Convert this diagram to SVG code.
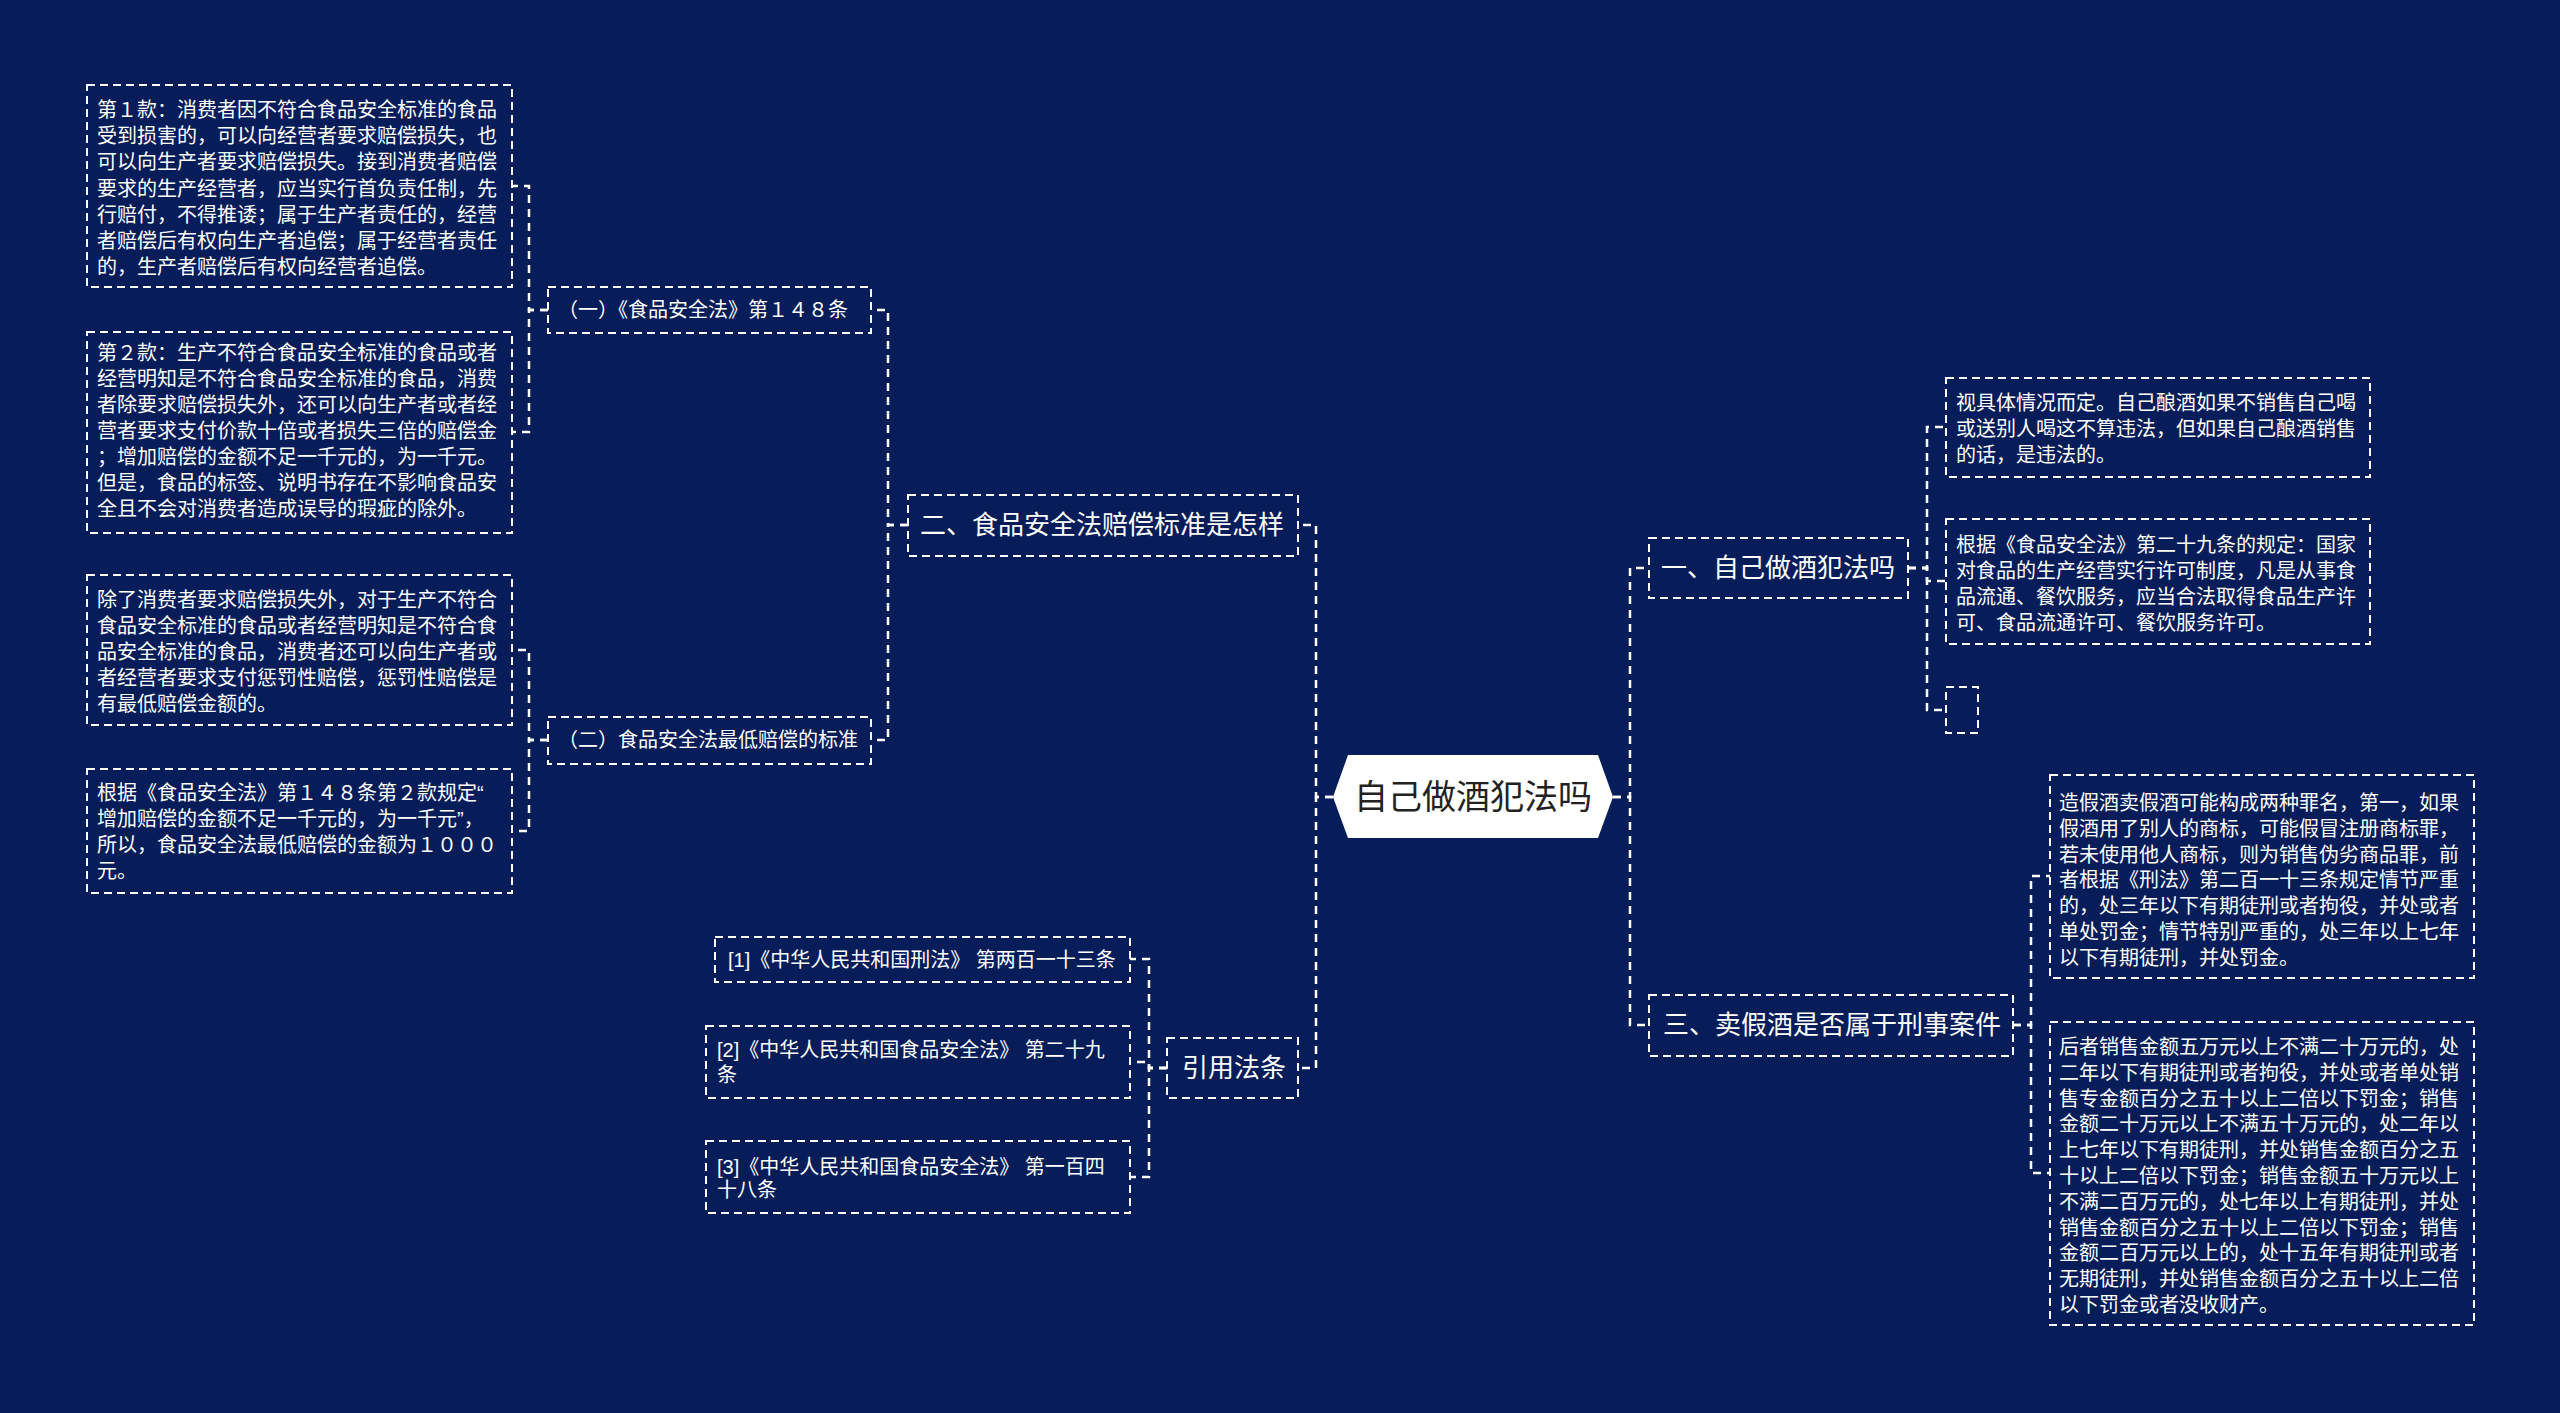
<svg xmlns="http://www.w3.org/2000/svg" width="2560" height="1413" viewBox="0 0 2560 1413">
<style>
.bg{fill:#061d59}
.box{fill:none;stroke:#ffffff;stroke-width:2;stroke-dasharray:8 5}
.conn{fill:none;stroke:#ffffff;stroke-width:2.5;stroke-dasharray:8 6}
text{font-family:'Liberation Sans','Noto Sans CJK SC',sans-serif;fill:#ffffff}
.t20{font-size:20px}
.t26{font-size:26px}
.root{font-size:34px;fill:#222222;text-anchor:middle}
</style>
<rect class="bg" x="0" y="0" width="2560" height="1413"/>
<g id="connectors">
<path class="conn" d="M1333,797 H1316 V525 H1298"/>
<path class="conn" d="M1333,797 H1316 V1068 H1298"/>
<path class="conn" d="M1613,797 H1630 V568 H1649"/>
<path class="conn" d="M1613,797 H1630 V1025 H1649"/>
<path class="conn" d="M908,525 H888 V310 H871"/>
<path class="conn" d="M908,525 H888 V740 H871"/>
<path class="conn" d="M548,310 H529 V186 H512"/>
<path class="conn" d="M548,310 H529 V432 H512"/>
<path class="conn" d="M548,740 H529 V650 H512"/>
<path class="conn" d="M548,740 H529 V831 H512"/>
<path class="conn" d="M1167,1068 H1149 V959 H1130"/>
<path class="conn" d="M1167,1068 H1149 V1062 H1130"/>
<path class="conn" d="M1167,1068 H1149 V1177 H1130"/>
<path class="conn" d="M1908,568 H1927 V427 H1946"/>
<path class="conn" d="M1908,568 H1927 V581 H1946"/>
<path class="conn" d="M1908,568 H1927 V710 H1946"/>
<path class="conn" d="M2013,1025 H2031 V876 H2050"/>
<path class="conn" d="M2013,1025 H2031 V1173 H2050"/>
</g>
<g id="root">
<polygon points="1333,797 1348,755 1598,755 1613,797 1598,838 1348,838" fill="#ffffff"/>
<text class="root" x="1473" y="809">自己做酒犯法吗</text>
</g>
<g id="n-er">
<rect class="box" x="908" y="495" width="390" height="61"/>
<text class="t26" x="920" y="534">二、食品安全法赔偿标准是怎样</text>
</g>
<g id="n-yin">
<rect class="box" x="1167" y="1038" width="131" height="60"/>
<text class="t26" x="1182" y="1077">引用法条</text>
</g>
<g id="n-yi">
<rect class="box" x="1649" y="538" width="259" height="60"/>
<text class="t26" x="1661" y="577">一、自己做酒犯法吗</text>
</g>
<g id="n-san">
<rect class="box" x="1649" y="995" width="364" height="61"/>
<text class="t26" x="1663" y="1034">三、卖假酒是否属于刑事案件</text>
</g>
<g id="n-sub1">
<rect class="box" x="548" y="287" width="323" height="46"/>
<text class="t20" x="558" y="317">（一）《食品安全法》第１４８条</text>
</g>
<g id="n-sub2">
<rect class="box" x="548" y="717" width="323" height="47"/>
<text class="t20" x="558" y="747">（二）食品安全法最低赔偿的标准</text>
</g>
<g id="n-a">
<rect class="box" x="87" y="85" width="425" height="202"/>
<text class="t20"><tspan x="97" y="117">第１款：消费者因不符合食品安全标准的食品</tspan><tspan x="97" y="143">受到损害的，可以向经营者要求赔偿损失，也</tspan><tspan x="97" y="169">可以向生产者要求赔偿损失。接到消费者赔偿</tspan><tspan x="97" y="196">要求的生产经营者，应当实行首负责任制，先</tspan><tspan x="97" y="222">行赔付，不得推诿；属于生产者责任的，经营</tspan><tspan x="97" y="248">者赔偿后有权向生产者追偿；属于经营者责任</tspan><tspan x="97" y="274">的，生产者赔偿后有权向经营者追偿。</tspan></text>
</g>
<g id="n-b">
<rect class="box" x="87" y="332" width="425" height="201"/>
<text class="t20"><tspan x="97" y="360">第２款：生产不符合食品安全标准的食品或者</tspan><tspan x="97" y="386">经营明知是不符合食品安全标准的食品，消费</tspan><tspan x="97" y="412">者除要求赔偿损失外，还可以向生产者或者经</tspan><tspan x="97" y="438">营者要求支付价款十倍或者损失三倍的赔偿金</tspan><tspan x="97" y="464">；增加赔偿的金额不足一千元的，为一千元。</tspan><tspan x="97" y="490">但是，食品的标签、说明书存在不影响食品安</tspan><tspan x="97" y="516">全且不会对消费者造成误导的瑕疵的除外。</tspan></text>
</g>
<g id="n-c">
<rect class="box" x="87" y="575" width="425" height="150"/>
<text class="t20"><tspan x="97" y="607">除了消费者要求赔偿损失外，对于生产不符合</tspan><tspan x="97" y="633">食品安全标准的食品或者经营明知是不符合食</tspan><tspan x="97" y="659">品安全标准的食品，消费者还可以向生产者或</tspan><tspan x="97" y="685">者经营者要求支付惩罚性赔偿，惩罚性赔偿是</tspan><tspan x="97" y="711">有最低赔偿金额的。</tspan></text>
</g>
<g id="n-d">
<rect class="box" x="87" y="769" width="425" height="124"/>
<text class="t20"><tspan x="97" y="800">根据《食品安全法》第１４８条第２款规定“</tspan><tspan x="97" y="826">增加赔偿的金额不足一千元的，为一千元”，</tspan><tspan x="97" y="852">所以，食品安全法最低赔偿的金额为１０００</tspan><tspan x="97" y="878">元。</tspan></text>
</g>
<g id="n-ref1">
<rect class="box" x="715" y="937" width="415" height="45"/>
<text class="t20" x="728" y="967">[1]《中华人民共和国刑法》 第两百一十三条</text>
</g>
<g id="n-ref2">
<rect class="box" x="706" y="1026" width="424" height="72"/>
<text class="t20"><tspan x="717" y="1057">[2]《中华人民共和国食品安全法》 第二十九</tspan><tspan x="717" y="1082">条</tspan></text>
</g>
<g id="n-ref3">
<rect class="box" x="706" y="1141" width="424" height="72"/>
<text class="t20"><tspan x="717" y="1174">[3]《中华人民共和国食品安全法》 第一百四</tspan><tspan x="717" y="1197">十八条</tspan></text>
</g>
<g id="n-r1">
<rect class="box" x="1946" y="378" width="424" height="99"/>
<text class="t20"><tspan x="1956" y="410">视具体情况而定。自己酿酒如果不销售自己喝</tspan><tspan x="1956" y="436">或送别人喝这不算违法，但如果自己酿酒销售</tspan><tspan x="1956" y="462">的话，是违法的。</tspan></text>
</g>
<g id="n-r2">
<rect class="box" x="1946" y="519" width="424" height="125"/>
<text class="t20"><tspan x="1956" y="552">根据《食品安全法》第二十九条的规定：国家</tspan><tspan x="1956" y="578">对食品的生产经营实行许可制度，凡是从事食</tspan><tspan x="1956" y="604">品流通、餐饮服务，应当合法取得食品生产许</tspan><tspan x="1956" y="630">可、食品流通许可、餐饮服务许可。</tspan></text>
</g>
<g id="n-r3">
<rect class="box" x="1946" y="687" width="32" height="46"/>
</g>
<g id="n-r4">
<rect class="box" x="2050" y="775" width="424" height="203"/>
<text class="t20"><tspan x="2059" y="810">造假酒卖假酒可能构成两种罪名，第一，如果</tspan><tspan x="2059" y="836">假酒用了别人的商标，可能假冒注册商标罪，</tspan><tspan x="2059" y="862">若未使用他人商标，则为销售伪劣商品罪，前</tspan><tspan x="2059" y="887">者根据《刑法》第二百一十三条规定情节严重</tspan><tspan x="2059" y="913">的，处三年以下有期徒刑或者拘役，并处或者</tspan><tspan x="2059" y="939">单处罚金；情节特别严重的，处三年以上七年</tspan><tspan x="2059" y="965">以下有期徒刑，并处罚金。</tspan></text>
</g>
<g id="n-r5">
<rect class="box" x="2050" y="1022" width="424" height="303"/>
<text class="t20"><tspan x="2059" y="1054">后者销售金额五万元以上不满二十万元的，处</tspan><tspan x="2059" y="1080">二年以下有期徒刑或者拘役，并处或者单处销</tspan><tspan x="2059" y="1106">售专金额百分之五十以上二倍以下罚金；销售</tspan><tspan x="2059" y="1131">金额二十万元以上不满五十万元的，处二年以</tspan><tspan x="2059" y="1157">上七年以下有期徒刑，并处销售金额百分之五</tspan><tspan x="2059" y="1183">十以上二倍以下罚金；销售金额五十万元以上</tspan><tspan x="2059" y="1209">不满二百万元的，处七年以上有期徒刑，并处</tspan><tspan x="2059" y="1235">销售金额百分之五十以上二倍以下罚金；销售</tspan><tspan x="2059" y="1260">金额二百万元以上的，处十五年有期徒刑或者</tspan><tspan x="2059" y="1286">无期徒刑，并处销售金额百分之五十以上二倍</tspan><tspan x="2059" y="1312">以下罚金或者没收财产。</tspan></text>
</g>
</svg>
